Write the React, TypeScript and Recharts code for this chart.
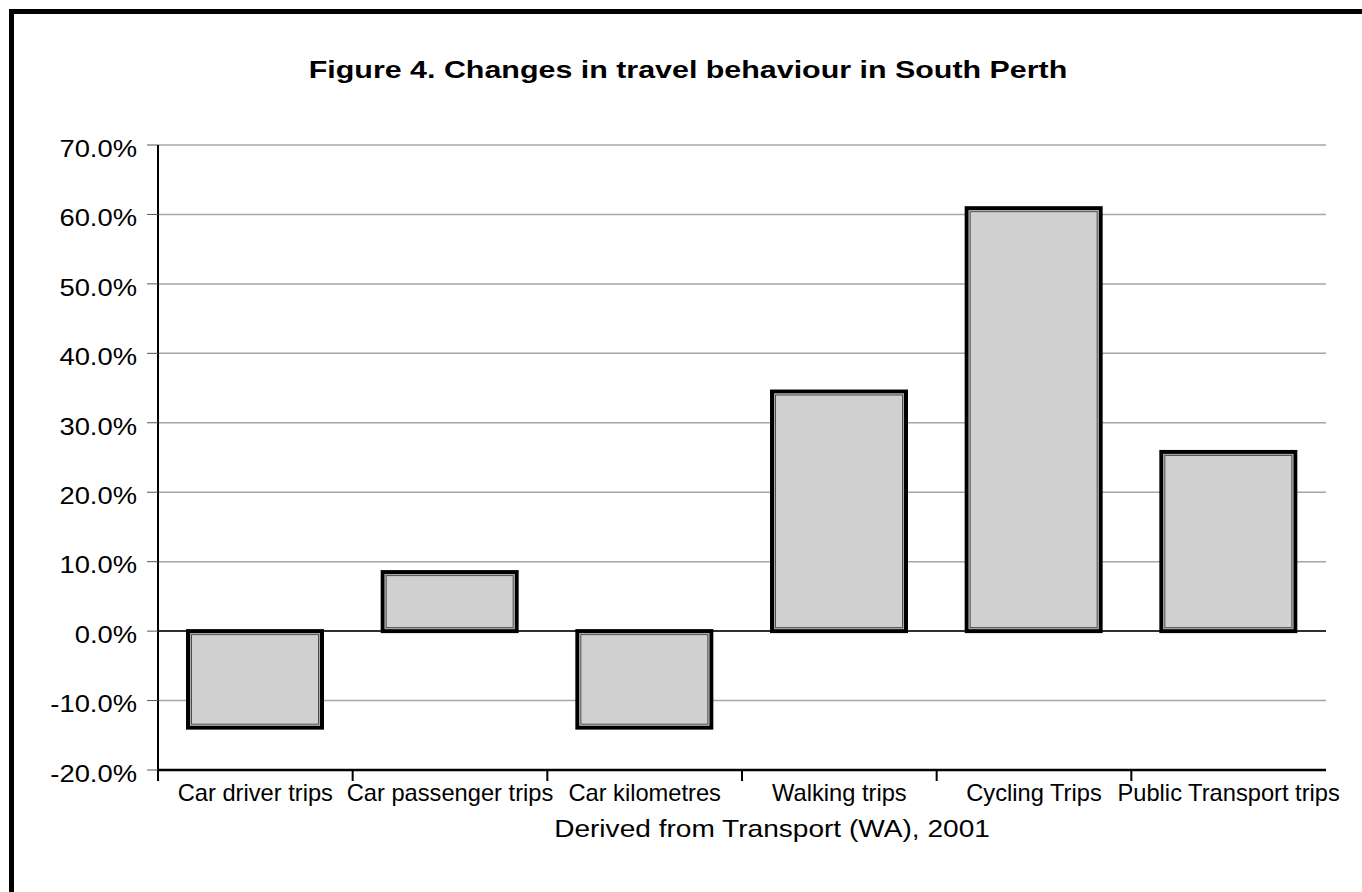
import React from 'react';
import { BarChart, Bar, XAxis, YAxis, CartesianGrid, ReferenceLine } from 'recharts';

const categories = [
  'Car driver trips',
  'Car passenger trips',
  'Car kilometres',
  'Walking trips',
  'Cycling Trips',
  'Public Transport trips',
];
const changes = [-13.9, 8.5, -13.9, 34.5, 60.9, 25.8];
const yTicks = [-20, -10, 0, 10, 20, 30, 40, 50, 60, 70];

const data = categories.map((name, i) => ({ name, change: changes[i] }));

const W = 1362;
const H = 892;
const PLOT_LEFT = 158;
const PLOT_RIGHT = 1326;
const PLOT_TOP = 145;
const PLOT_BOTTOM = 770;
const HALF_BAND = (PLOT_RIGHT - PLOT_LEFT) / categories.length / 2;
const FONT = 'Arial, "Liberation Sans", Helvetica, sans-serif';

const YTick = (props: any) => {
  const { x, y, payload } = props;
  return (
    <text
      transform={`translate(${x} ${y}) scale(1.14 1)`}
      x={0}
      y={11.8}
      textAnchor="end"
      fontFamily={FONT}
      fontSize={24}
      fill="#000"
    >
      {`${Number(payload.value).toFixed(1)}%`}
    </text>
  );
};

const XTick = (props: any) => {
  const { x, y, payload } = props;
  return (
    <g>
      <line x1={x - HALF_BAND} x2={x - HALF_BAND} y1={y} y2={y + 11} stroke="#000" strokeWidth={2} />
      <text
        transform={`translate(${x} ${y + 31}) scale(1.03 1)`}
        x={0}
        y={0}
        textAnchor="middle"
        fontFamily={FONT}
        fontSize={23}
        fill="#000"
      >
        {payload.value}
      </text>
    </g>
  );
};

const DoubleBorderBar = (props: any) => {
  const { x, y, width, height } = props;
  const top = Math.min(y, y + height);
  const h = Math.abs(height);
  return (
    <g>
      <rect x={x} y={top} width={width} height={h} fill="#d0d0d0" stroke="#000" strokeWidth={4} />
      <rect
        x={x + 2.5}
        y={top + 2.5}
        width={Math.max(0, width - 5)}
        height={Math.max(0, h - 5)}
        fill="none"
        stroke="#a8a8a8"
        strokeWidth={1}
      />
      <rect
        x={x + 3.5}
        y={top + 3.5}
        width={Math.max(0, width - 7)}
        height={Math.max(0, h - 7)}
        fill="none"
        stroke="#505050"
        strokeWidth={1}
      />
    </g>
  );
};

export default function App() {
  return (
    <div style={{ position: 'absolute', left: 0, top: 0, width: W, height: H, overflow: 'hidden', background: '#fff' }}>
      <div
        style={{
          position: 'absolute',
          left: 9,
          top: 9,
          width: W + 100,
          height: H + 100,
          borderTop: '5px solid #000',
          borderLeft: '5px solid #000',
        }}
      />
      <div style={{ position: 'absolute', left: 0, top: 0 }}>
        <BarChart
          width={W}
          height={H}
          data={data}
          margin={{ top: PLOT_TOP, right: W - PLOT_RIGHT, bottom: H - PLOT_BOTTOM - 60, left: 0 }}
        >
          <CartesianGrid vertical={false} stroke="#a6a6a6" strokeWidth={1.5} />
          <XAxis
            dataKey="name"
            height={60}
            interval={0}
            tickSize={0}
            tickMargin={0}
            tickLine={false}
            tick={<XTick />}
            axisLine={{ stroke: '#000', strokeWidth: 2.5 }}
          />
          <YAxis
            type="number"
            domain={[-20, 70]}
            ticks={yTicks}
            interval={0}
            width={PLOT_LEFT}
            tickSize={11}
            tickMargin={10}
            tick={<YTick />}
            tickLine={{ stroke: '#555', strokeWidth: 1 }}
            axisLine={{ stroke: '#000', strokeWidth: 2 }}
          />
          <ReferenceLine y={0} stroke="#000" strokeWidth={1.5} />
          <Bar dataKey="change" barSize={134} shape={<DoubleBorderBar />} isAnimationActive={false} />
        </BarChart>
      </div>
      <svg
        width={W}
        height={H}
        style={{ position: 'absolute', left: 0, top: 0, pointerEvents: 'none' }}
      >
        <text
          transform="translate(688 78) scale(1.3 1)"
          textAnchor="middle"
          fontFamily={FONT}
          fontWeight="bold"
          fontSize={23.4}
          fill="#000"
        >
          Figure 4. Changes in travel behaviour in South Perth
        </text>
        <text
          transform="translate(772 837) scale(1.17 1)"
          textAnchor="middle"
          fontFamily={FONT}
          fontSize={24}
          fill="#000"
        >
          Derived from Transport (WA), 2001
        </text>
      </svg>
    </div>
  );
}
